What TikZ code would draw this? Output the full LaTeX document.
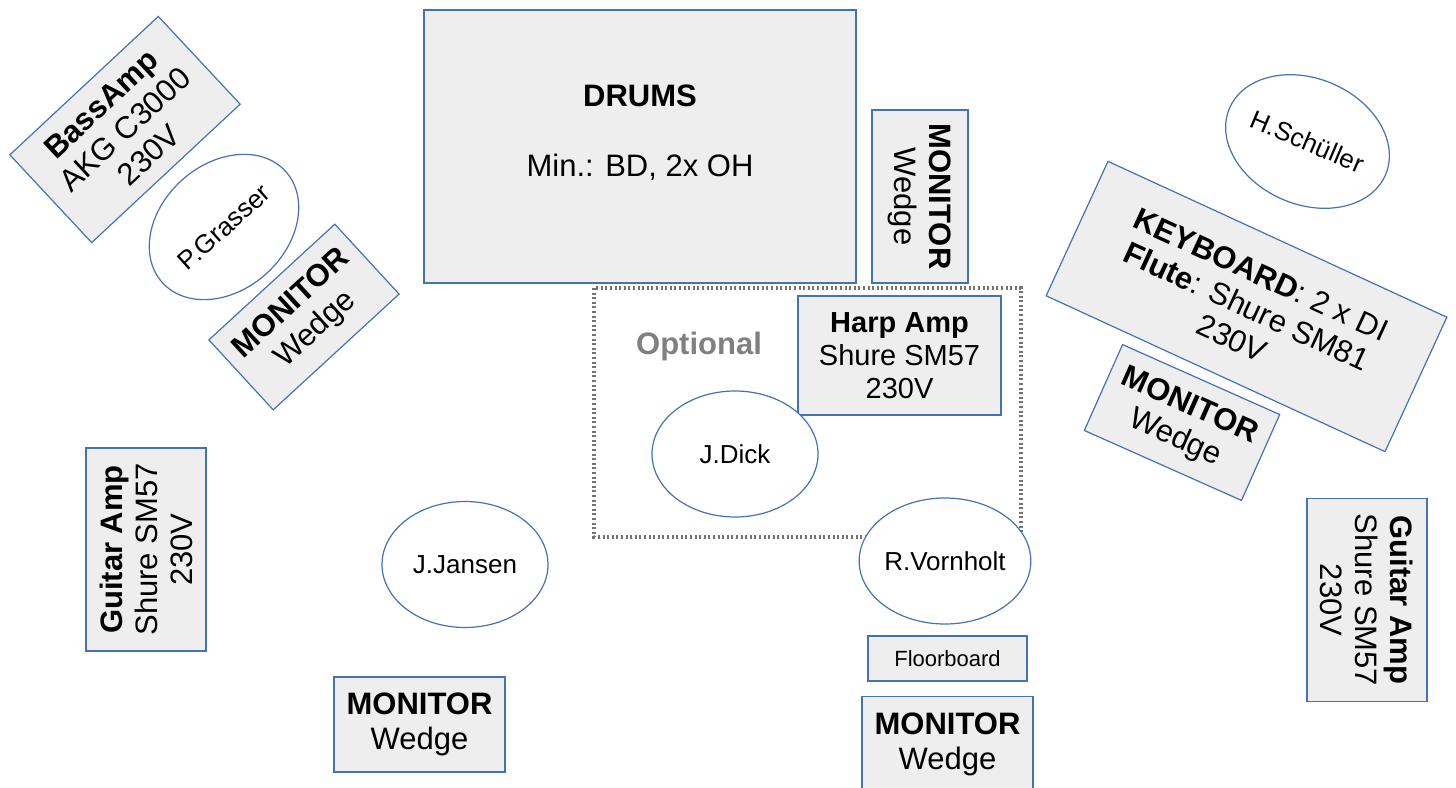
\documentclass[tikz,border=0pt]{standalone}
\usepackage{fontspec}
\setmainfont{Liberation Sans}
\usepackage{tikz}
\usetikzlibrary{shapes.geometric}

\definecolor{edgeblue}{RGB}{69,114,176}
\definecolor{boxfill}{RGB}{238,238,238}
\definecolor{optgray}{RGB}{128,128,128}
\definecolor{dotgray}{RGB}{115,115,115}
\newcommand{\bigtext}{\fontsize{31}{35}\selectfont}
\newcommand{\harptext}{\fontsize{29}{33}\selectfont}
\newcommand{\nametext}{\fontsize{26}{30}\selectfont}

\tikzset{
    gear/.style={draw=edgeblue, fill=boxfill, line width=1.2pt, inner sep=0pt, align=center, font=\bigtext},
    wedge/.style={gear, minimum width=171pt, minimum height=95pt},
    ampbox/.style={gear, minimum width=203pt, minimum height=120pt},
    player/.style={draw=edgeblue, fill=white, ellipse, line width=1.2pt, inner sep=0pt, minimum width=166pt, minimum height=126pt, font=\nametext},
}

\begin{document}
\begin{tikzpicture}[x=1pt, y=-1pt]
        \useasboundingbox (0,0) rectangle (1456,787);

        % Draw the drum riser
            \node[gear, minimum width=432pt, minimum height=273pt] (drums) at (640,146.5) {};
            \node[align=center, font=\bigtext] (drumstext) at ([yshift=14pt]drums.center) {\textbf{DRUMS}\\[35pt]Min.: BD, 2x OH};
            \node[wedge, minimum width=173pt, minimum height=96pt, rotate=-90] (drummon) at (920,196.5) {\textbf{MONITOR}\\Wedge};

        % Draw the optional area
            \draw[dotgray, line width=4.5pt, dash pattern=on 2pt off 2.6pt] (594,288) rectangle (1021,537);
            \node[font=\bigtext\bfseries, text=optgray] (optional) at (699,346) {Optional};
            \node[gear, font=\harptext, minimum width=203pt, minimum height=119pt] (harpamp) at (899.5,355.5) {\textbf{Harp Amp}\\Shure SM57\\230V};
            \node[player] (dick) at (735,454) {J.Dick};

        % Draw the left side
            \node[ampbox, rotate=43] (bassamp) at (125,129.5) {\textbf{BassAmp}\\AKG C3000\\230V};
            \node[player, rotate=42] (grasser) at (224,227) {P.Grasser};
            \node[wedge, rotate=42.6] (leftmon) at (304,317) {\textbf{MONITOR}\\Wedge};
            \node[ampbox, rotate=90] (leftamp) at (146,549.5) {\textbf{Guitar Amp}\\Shure SM57\\230V};
            \node[player] (jansen) at (465,564.5) {J.Jansen};
            \node[wedge] (jansenmon) at (419.5,724.5) {\textbf{MONITOR}\\Wedge};

        % Draw the front centre
            \node[player] (vornholt) at (945,561) {R.Vornholt};
            \node[gear, font=\fontsize{22}{26}\selectfont, minimum width=159pt, minimum height=45pt] (floorboard) at (947.5,658.5) {Floorboard};
            \node[wedge, anchor=north] (vornholtmon) at (947.5,696) {\textbf{MONITOR}\\Wedge};

        % Draw the right side
            \node[player, rotate=-23] (schueller) at (1307.5,141.5) {H.Schüller};
            \node[gear, minimum width=373pt, minimum height=148pt, rotate=-24.7] (keyboard) at (1246.5,306.5) {\textbf{KEYBOARD}: 2 x DI\\\textbf{Flute}: Shure SM81\\230V};
            \node[wedge, minimum width=172pt, minimum height=94pt, rotate=-24] (rightmon) at (1182,422.5) {\textbf{MONITOR}\\Wedge};
            \node[ampbox, rotate=-90] (rightamp) at (1367,600) {\textbf{Guitar Amp}\\Shure SM57\\230V};
    \end{tikzpicture}
\end{document}
